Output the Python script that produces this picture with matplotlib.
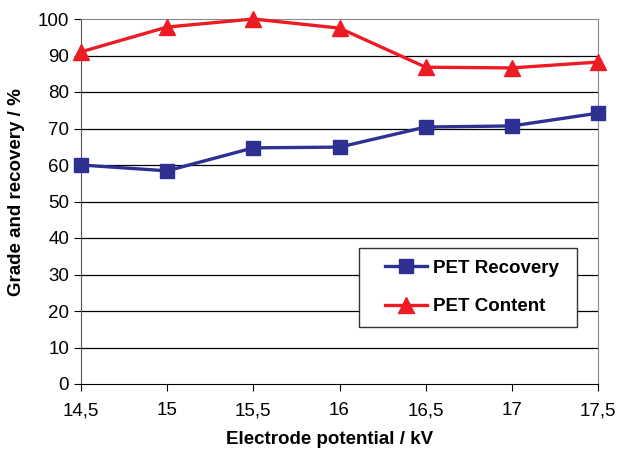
import matplotlib
matplotlib.use("Agg")
import matplotlib.pyplot as plt
from matplotlib.patches import Rectangle

plt.rcParams['font.family'] = ['Liberation Sans', 'DejaVu Sans']

potential = [14.5, 15, 15.5, 16, 16.5, 17, 17.5]
pet_recovery = [60.0, 58.4, 64.7, 64.9, 70.4, 70.7, 74.2]
pet_content = [91.0, 97.8, 100.0, 97.5, 86.8, 86.6, 88.2]
xtick_labels = ["14,5", "15", "15,5", "16", "16,5", "17", "17,5"]
yticks = [0, 10, 20, 30, 40, 50, 60, 70, 80, 90, 100]

fig = plt.figure(figsize=(6.19, 4.51), dpi=100)
ax = fig.add_axes([81/619, 1 - 384/451, (598-81)/619, (384-19)/451])

ax.set_xlim(14.5, 17.5)
ax.set_ylim(0, 100)
ax.set_yticks(yticks)
ax.set_xticks(potential)
ax.set_xticklabels(xtick_labels)
for y in yticks[1:-1]:
    ax.axhline(y, color='black', lw=0.9, zorder=1)

ax.plot(potential, pet_recovery, color='#2e3192', lw=2.4, marker='s', ms=9.5,
        label='PET Recovery', zorder=3, clip_on=False)
ax.plot(potential, pet_content, color='#ed1c24', lw=2.4, marker='^', ms=11,
        label='PET Content', zorder=3, clip_on=False)

for s in ['top', 'right']:
    ax.spines[s].set_color('#888888')
ax.spines['left'].set_color('#555555')
ax.spines['bottom'].set_color('black')
ax.tick_params(axis='both', labelsize=13.5, direction='out', length=5, colors='black')
ax.tick_params(axis='x', pad=8)

ax.set_xlabel('Electrode potential / kV', fontsize=13.5, fontweight='bold')
ax.set_ylabel('Grade and recovery / %', fontsize=13.5, fontweight='bold')
ax.xaxis.set_label_coords(0.48, -0.128)
ax.yaxis.set_label_coords(-0.108, 0.526)

# legend frame
bx0, bx1 = (359-81)/517, (577-81)/517
by0, by1 = (384-327)/365, (384-248)/365
ax.add_patch(Rectangle((bx0, by0), bx1-bx0, by1-by0, transform=ax.transAxes,
                       facecolor='white', edgecolor='#333333', lw=1.0, zorder=4))
leg = ax.legend(loc='center', bbox_to_anchor=((bx0+bx1)/2 + 0.008, (by0+by1)/2),
                frameon=False, labelspacing=1.15, handlelength=2.25, handletextpad=0.3,
                prop={'weight': 'bold', 'size': 13.5})
leg.set_zorder(5)

fig.savefig('out.png', dpi=100)
